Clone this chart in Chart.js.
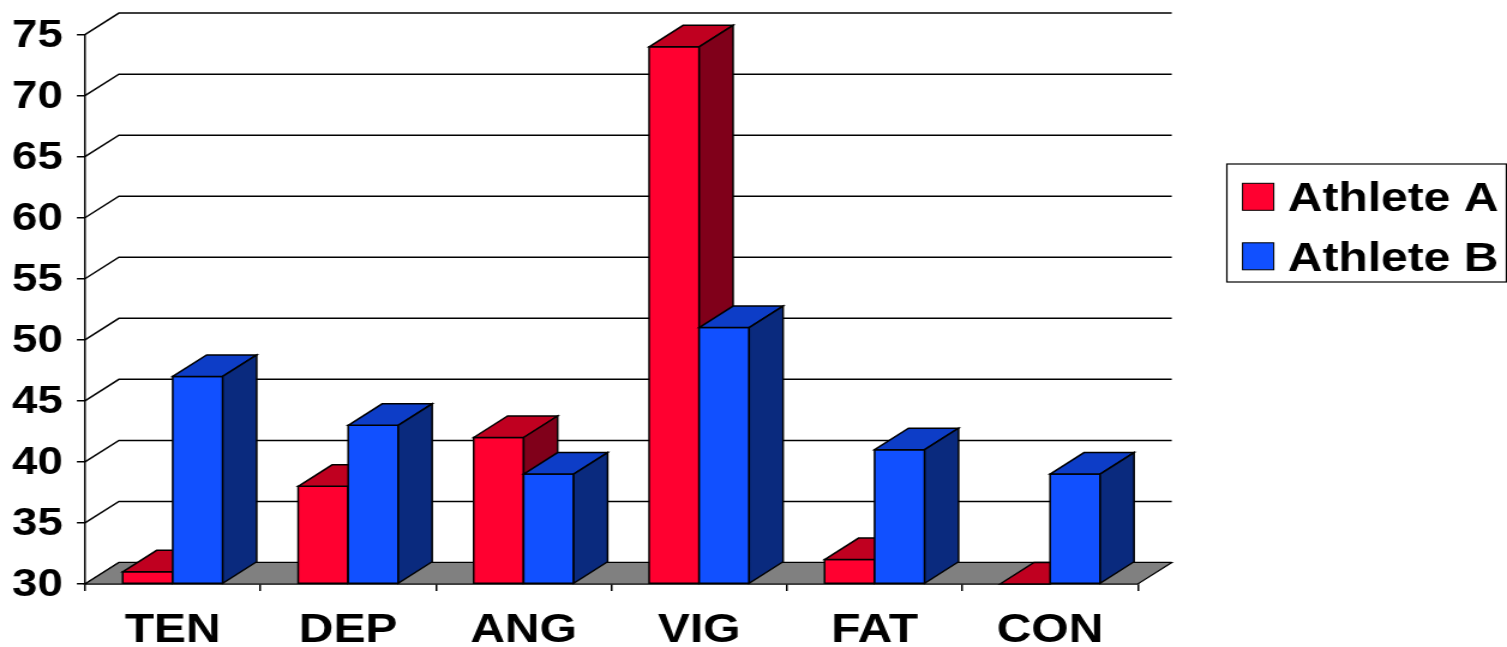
<!DOCTYPE html>
<html>
<head>
<meta charset="utf-8">
<script src="https://cdn.jsdelivr.net/npm/chart.js@4"></script>
<style>
  html, body { margin: 0; padding: 0; background: #fff; overflow: hidden; }
  #wrap { width: 1256px; height: 647px; transform: scaleX(1.19984); transform-origin: 0 0; }
  canvas { display: block; }
</style>
</head>
<body>
<div id="wrap"><canvas id="c" width="1256" height="647"></canvas></div>
<script>
// Mood profile scores per subscale
const categories = ['TEN', 'DEP', 'ANG', 'VIG', 'FAT', 'CON'];
const athleteA = [31, 38, 42, 74, 32, 30];
const athleteB = [47, 43, 39, 51, 41, 39];
const yTicks = [30, 35, 40, 45, 50, 55, 60, 65, 70, 75];
const seriesNames = ['Athlete A', 'Athlete B'];
const yMin = 30, yMax = 75;

// depth of the 3D extrusion (canvas px)
const DX = 28.3, DY = -21.5;
const FONT = '"Liberation Sans", Arial, sans-serif';

const shades = [
  { front: '#FF0030', top: '#C00020', side: '#80001A' },
  { front: '#1150FF', top: '#0D3DC7', side: '#0A2A7E' }
];

function poly(ctx, pts, fill) {
  ctx.beginPath();
  ctx.moveTo(pts[0][0], pts[0][1]);
  for (let k = 1; k < pts.length; k++) ctx.lineTo(pts[k][0], pts[k][1]);
  ctx.closePath();
  if (fill) { ctx.fillStyle = fill; ctx.fill(); }
  ctx.stroke();
}

const threeD = {
  id: 'threeD',
  beforeDatasetsDraw(chart) {
    const ctx = chart.ctx, a = chart.chartArea, ys = chart.scales.y;
    ctx.save();
    ctx.strokeStyle = '#000';
    ctx.lineJoin = 'miter';

    // back wall gridlines
    ctx.lineWidth = 1.5;
    yTicks.forEach(v => {
      const py = ys.getPixelForValue(v);
      ctx.beginPath();
      ctx.moveTo(a.left, py);
      ctx.lineTo(a.left + DX, py + DY);
      ctx.lineTo(a.right + DX, py + DY);
      ctx.stroke();
    });

    // floor
    ctx.lineWidth = 1.2;
    const floorY = ys.getPixelForValue(yMin);
    poly(ctx, [[a.left, floorY], [a.left + DX, floorY + DY], [a.right + DX, floorY + DY], [a.right, floorY]], '#808080');

    // bars, category by category so nearer faces overlap correctly
    ctx.lineWidth = 1.5;
    const metas = [chart.getDatasetMeta(0), chart.getDatasetMeta(1)];
    categories.forEach((_, i) => {
      metas.forEach((meta, d) => {
        const el = meta.data[i];
        const l = el.x - el.width / 2, r = el.x + el.width / 2;
        const bb = Math.min(el.base, floorY), t = Math.min(el.y, bb);
        const s = shades[d];
        if (bb - t > 0.5) poly(ctx, [[l, t], [r, t], [r, bb], [l, bb]], s.front);
        poly(ctx, [[l, t], [l + DX, t + DY], [r + DX, t + DY], [r, t]], s.top);
        if (bb - t > 0.5) poly(ctx, [[r, t], [r + DX, t + DY], [r + DX, bb + DY], [r, bb]], s.side);
      });
    });
    ctx.restore();
    return false;
  },
  afterDraw(chart) {
    // legend box
    const ctx = chart.ctx;
    ctx.save();
    ctx.strokeStyle = '#000';
    ctx.lineWidth = 1.2;
    ctx.strokeRect(1022.5, 164, 233, 118);
    ctx.font = 'bold 40px ' + FONT;
    ctx.textBaseline = 'alphabetic';
    ctx.textAlign = 'left';
    chart.data.datasets.forEach((ds, d) => {
      const rowY = 183.3 + d * 59.5;
      ctx.fillStyle = ds.backgroundColor;
      ctx.fillRect(1035.6, rowY, 26, 27);
      ctx.lineWidth = 1;
      ctx.strokeRect(1035.6, rowY, 26, 27);
      ctx.fillStyle = '#000';
      ctx.fillText(ds.label, 1073.3, rowY + 28);
    });
    ctx.restore();
  }
};

new Chart(document.getElementById('c'), {
  type: 'bar',
  data: {
    labels: categories,
    datasets: [
      { label: seriesNames[0], data: athleteA, backgroundColor: shades[0].front, base: yMin },
      { label: seriesNames[1], data: athleteB, backgroundColor: shades[1].front, base: yMin }
    ]
  },
  options: {
    responsive: false,
    devicePixelRatio: 1,
    animation: false,
    events: [],
    layout: { padding: { left: 0, right: 307.7, top: 33.3, bottom: 0 } },
    categoryPercentage: 0.57,
    barPercentage: 1.0,
    plugins: { legend: { display: false }, tooltip: { enabled: false } },
    scales: {
      x: {
        grid: { display: true, drawOnChartArea: false, drawTicks: true, tickLength: 7, color: '#000', lineWidth: 1.5, offset: true },
        border: { display: true, color: '#000', width: 1.5 },
        ticks: { color: '#000', padding: 16, font: { family: FONT, size: 40, weight: 'bold' }, maxRotation: 0 },
        afterFit(s) { s.height = 63; }
      },
      y: {
        min: yMin, max: yMax,
        afterBuildTicks(s) { s.ticks = yTicks.map(v => ({ value: v })); },
        grid: { display: true, drawOnChartArea: false, drawTicks: true, tickLength: 6.7, color: '#000', lineWidth: 1.5 },
        border: { display: true, color: '#000', width: 1.5 },
        ticks: { color: '#000', padding: 11.8, labelOffset: 2, font: { family: FONT, size: 38, weight: 'bold' } },
        afterFit(s) { s.width = 70.8; }
      }
    }
  },
  plugins: [threeD]
});
</script>
</body>
</html>
